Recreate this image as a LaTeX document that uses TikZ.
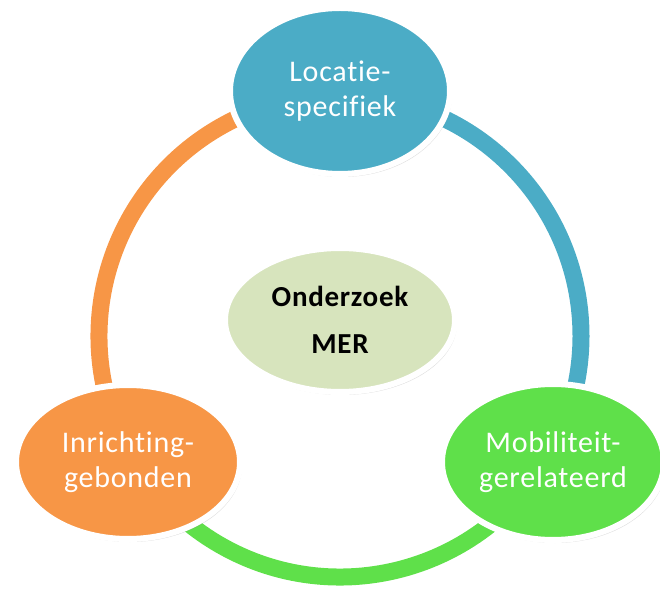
\documentclass[tikz,border=0pt]{standalone}
\usepackage{fontspec}
\setmainfont{Carlito}[Ligatures={NoCommon}, LetterSpace=2.5]
\usetikzlibrary{shapes.geometric,shadows}
\definecolor{cblue}{HTML}{4BACC6}
\definecolor{corange}{HTML}{F79646}
\definecolor{cgreen}{HTML}{5FE04A}
\definecolor{ccenter}{HTML}{D7E4BD}
\tikzset{
  ringarc/.style={line width=17pt, line cap=butt},
  bubble/.style={ellipse, draw=white, line width=6pt, inner sep=0pt,
    align=center, text=white, font=\fontsize{30}{35}\selectfont,
    drop shadow={opacity=0.25, shadow xshift=2pt, shadow yshift=-3pt}},
  midbubble/.style={ellipse, draw=white, line width=6pt, inner sep=0pt,
    align=center, text=black, fill=ccenter, font=\bfseries\fontsize{29}{47}\selectfont,
    drop shadow={opacity=0.25, shadow xshift=2pt, shadow yshift=-3pt}}
}
\begin{document}
\begin{tikzpicture}[x=1pt,y=1pt]
\useasboundingbox (0,0) rectangle (660,589);
\coordinate (ring) at (340,253);
\draw[ringarc, cblue] (ring) ++(92:241) arc[start angle=92, end angle=-32, radius=241];
\draw[ringarc, cgreen] (ring) ++(-30:241) arc[start angle=-30, end angle=-152, radius=241];
\draw[ringarc, corange] (ring) ++(-150:241) arc[start angle=-150, end angle=-268, radius=241];
\node[midbubble, minimum width=230pt, minimum height=144pt] (mid) at (340,269) {Onderzoek\\MER};
\node[bubble, fill=cblue, minimum width=220pt, minimum height=166pt] (top) at (340,498) {Locatie-\\specifiek};
\node[bubble, fill=corange, minimum width=224pt, minimum height=154pt] (left) at (128,127) {Inrichting-\\gebonden};
\node[bubble, fill=cgreen, minimum width=222pt, minimum height=156pt] (right) at (553,127) {Mobiliteit-\\gerelateerd};
\end{tikzpicture}
\end{document}
